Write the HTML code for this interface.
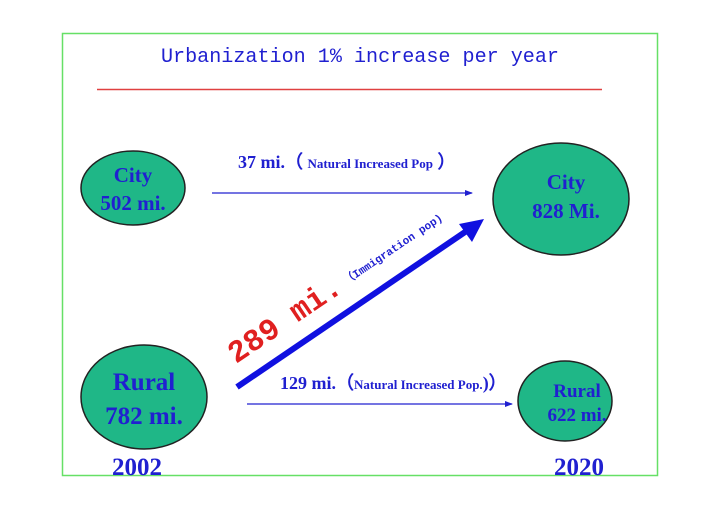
<!DOCTYPE html>
<html><head><meta charset="utf-8"><style>body{margin:0;background:#fff}svg{display:block}</style></head><body>
<svg width="720" height="509" viewBox="0 0 720 509" xmlns="http://www.w3.org/2000/svg">
<defs>
<marker id="a" markerWidth="8" markerHeight="6" refX="7" refY="3" orient="auto" markerUnits="userSpaceOnUse"><path d="M0,0 L8,3 L0,6 z" fill="#2020d0"/></marker>
</defs>
<rect x="62.5" y="33.5" width="595" height="442" fill="none" stroke="#66e066" stroke-width="1.5"/>
<text x="360" y="62" text-anchor="middle" font-family="Liberation Mono, monospace" font-size="20" textLength="398" lengthAdjust="spacingAndGlyphs" fill="#2020d0">Urbanization 1% increase per year</text>
<line x1="97" y1="89.5" x2="602" y2="89.5" stroke="#e04040" stroke-width="1.5"/>
<g fill="#1fb787" stroke="#222" stroke-width="1.5">
<ellipse cx="133" cy="188" rx="52" ry="37"/>
<ellipse cx="561" cy="199" rx="68" ry="56"/>
<ellipse cx="144" cy="397" rx="63" ry="52"/>
<ellipse cx="565" cy="401" rx="47" ry="40"/>
</g>
<g font-family="Liberation Serif, serif" font-weight="bold" fill="#2020d0" text-anchor="middle">
<text x="133" y="182" font-size="21">City</text><text x="133" y="210" font-size="21">502 mi.</text>
<text x="566" y="189" font-size="21">City</text><text x="566" y="218" font-size="21">828 Mi.</text>
<text x="144" y="390" font-size="25">Rural</text><text x="144" y="424" font-size="25">782 mi.</text>
<text x="577" y="397" font-size="19">Rural</text><text x="577" y="421" font-size="19">622 mi.</text>
<text x="137" y="475" font-size="25">2002</text><text x="579" y="475" font-size="25">2020</text>
</g>
<g font-family="Liberation Serif, serif" font-weight="bold" fill="#2020d0">
<text x="238" y="168" font-size="18">37 mi.（ <tspan font-size="13">Natural Increased Pop</tspan> ）</text>
<text x="280" y="389" font-size="18">129 mi.（<tspan font-size="13">Natural Increased Pop.</tspan>)）</text>
</g>
<line x1="212" y1="193" x2="472" y2="193" stroke="#2020d0" stroke-width="1.2" marker-end="url(#a)"/>
<line x1="247" y1="404" x2="512" y2="404" stroke="#2020d0" stroke-width="1.2" marker-end="url(#a)"/>
<line x1="237" y1="387" x2="468" y2="230" stroke="#1010e0" stroke-width="6"/>
<polygon points="484,219 459,224 472,242" fill="#1010e0"/>
<g transform="translate(236,364) rotate(-34)">
<text x="0" y="0" font-family="Liberation Mono, monospace" font-weight="bold" font-size="31" fill="#e02020">289 mi.</text>
<text x="136" y="-4" font-family="Liberation Mono, monospace" font-weight="bold" font-size="11" fill="#2020d0">（Immigration pop)</text>
</g>
</svg>
</body></html>
